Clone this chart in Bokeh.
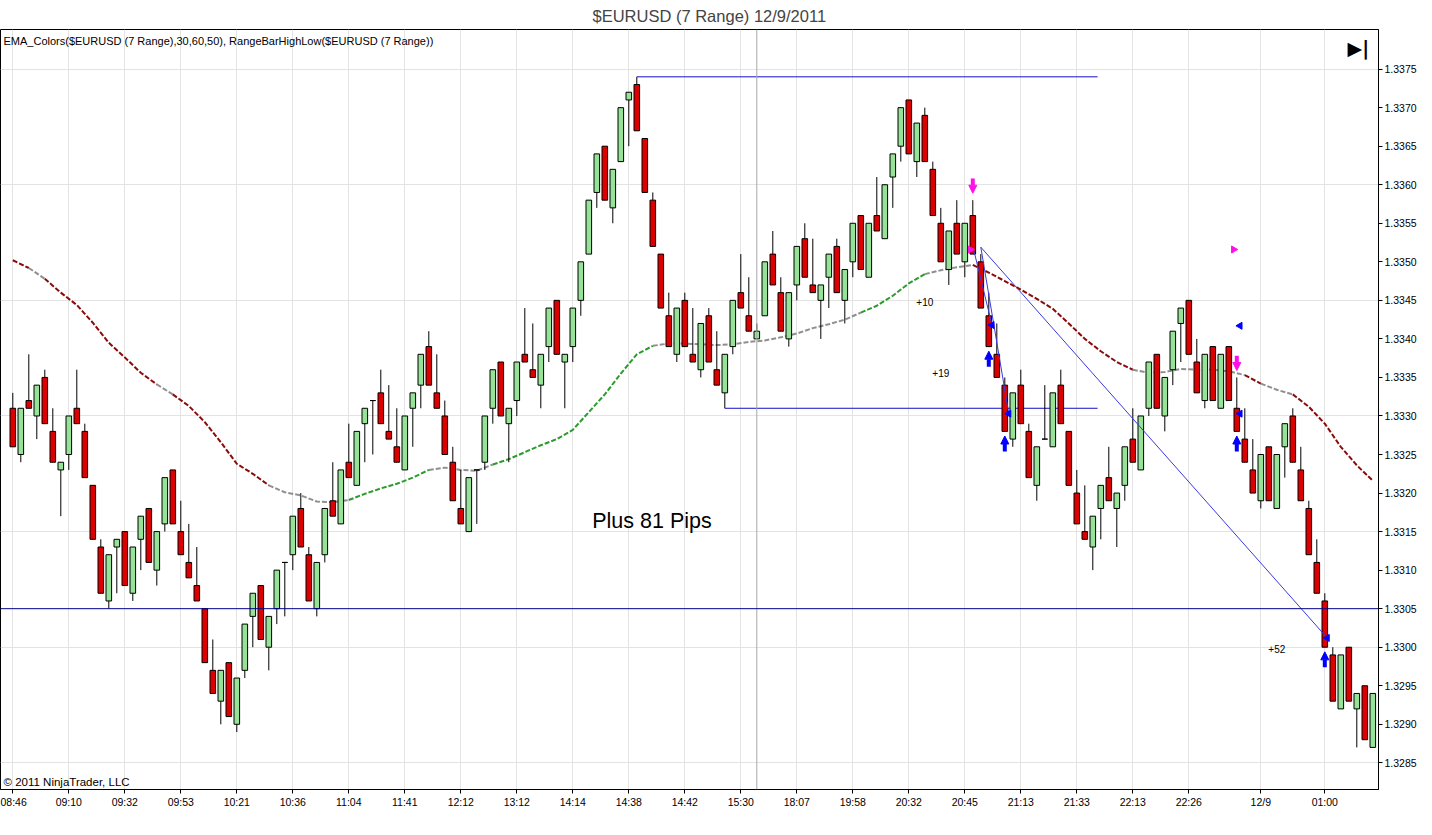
import math
from bokeh.plotting import figure
from bokeh.models import (ColumnDataSource, Range1d, FixedTicker, Span, Label,
                          Arrow, NormalHead, PrintfTickFormatter)
from bokeh.core.properties import value
from bokeh.embed import file_html
from bokeh.resources import INLINE

# ---------------- data ----------------
bar_open = [
    1.3331, 1.3325, 1.3332, 1.3330, 1.3335, 1.3328, 1.3323, 1.3325, 1.3331, 1.3328,
    1.3321, 1.3313, 1.3306, 1.3313, 1.3315, 1.3307, 1.3314, 1.3318, 1.3310, 1.3316,
    1.3323, 1.3315, 1.3311, 1.3308, 1.3305, 1.3297, 1.3293, 1.3298, 1.3290, 1.3297,
    1.3304, 1.3308, 1.3300, 1.3305, 1.3311, 1.3312, 1.3318, 1.3312, 1.3305, 1.3312,
    1.3319, 1.3316, 1.3324, 1.3321, 1.3329, 1.3332, 1.3333, 1.3328, 1.3326, 1.3323,
    1.3331, 1.3334, 1.3339, 1.3333, 1.3330, 1.3324, 1.3318, 1.3315, 1.3323, 1.3324,
    1.3331, 1.3337, 1.3329, 1.3332, 1.3338, 1.3336, 1.3334, 1.3339, 1.3345, 1.3337,
    1.3339, 1.3345, 1.3351, 1.3359, 1.3365, 1.3357, 1.3363, 1.3371, 1.3373, 1.3366,
    1.3358, 1.3351, 1.3343, 1.3338, 1.3345, 1.3338, 1.3336, 1.3343, 1.3336, 1.3333,
    1.3339, 1.3346, 1.3343, 1.3340, 1.3343, 1.3351, 1.3346, 1.3340, 1.3347, 1.3353,
    1.3347, 1.3345, 1.3348, 1.3352, 1.3345, 1.3350, 1.3356, 1.3348, 1.3356, 1.3353,
    1.3361, 1.3365, 1.3371, 1.3363, 1.3369, 1.3362, 1.3355, 1.3349, 1.3355, 1.3350,
    1.3356, 1.3350, 1.3343, 1.3338, 1.3334, 1.3327, 1.3334, 1.3328, 1.3321, 1.3327,
    1.3326, 1.3334, 1.3328, 1.3320, 1.3315, 1.3313, 1.3318, 1.3322, 1.3318, 1.3321,
    1.3327, 1.3323, 1.3331, 1.3338, 1.3330, 1.3336, 1.3342, 1.3345, 1.3337, 1.3332,
    1.3339, 1.3331, 1.3339, 1.3331, 1.3327, 1.3323, 1.3319, 1.3326, 1.3318, 1.3326,
    1.3330, 1.3323, 1.3318, 1.3311, 1.3306, 1.3299, 1.3292, 1.3300, 1.3292, 1.3295,
    1.3287,
]
bar_high = [
    1.3333, 1.3331, 1.3338, 1.3334, 1.3336, 1.3331, 1.3324, 1.3330, 1.3336, 1.3329,
    1.3321, 1.3314, 1.3312, 1.3314, 1.3315, 1.3313, 1.3317, 1.3318, 1.3315, 1.3322,
    1.3323, 1.3319, 1.3316, 1.3313, 1.3305, 1.3301, 1.3297, 1.3298, 1.3296, 1.3303,
    1.3307, 1.3308, 1.3304, 1.3310, 1.3311, 1.3317, 1.3320, 1.3313, 1.3311, 1.3318,
    1.3324, 1.3323, 1.3329, 1.3328, 1.3331, 1.3332, 1.3336, 1.3334, 1.3331, 1.3330,
    1.3333, 1.3338, 1.3341, 1.3338, 1.3332, 1.3326, 1.3323, 1.3322, 1.3323, 1.3330,
    1.3336, 1.3337, 1.3331, 1.3337, 1.3344, 1.3342, 1.3338, 1.3344, 1.3345, 1.3338,
    1.3344, 1.3350, 1.3358, 1.3364, 1.3365, 1.3362, 1.3370, 1.3372, 1.3374, 1.3366,
    1.3359, 1.3351, 1.3346, 1.3344, 1.3346, 1.3344, 1.3342, 1.3344, 1.3341, 1.3338,
    1.3345, 1.3351, 1.3348, 1.3342, 1.3350, 1.3354, 1.3348, 1.3346, 1.3352, 1.3355,
    1.3353, 1.3347, 1.3351, 1.3353, 1.3349, 1.3355, 1.3356, 1.3355, 1.3361, 1.3360,
    1.3364, 1.3370, 1.3371, 1.3368, 1.3370, 1.3363, 1.3357, 1.3354, 1.3358, 1.3355,
    1.3358, 1.3351, 1.3346, 1.3342, 1.3335, 1.3333, 1.3336, 1.3329, 1.3326, 1.3334,
    1.3333, 1.3336, 1.3328, 1.3323, 1.3321, 1.3317, 1.3321, 1.3326, 1.3320, 1.3326,
    1.3331, 1.3330, 1.3337, 1.3338, 1.3335, 1.3341, 1.3344, 1.3345, 1.3340, 1.3338,
    1.3339, 1.3338, 1.3339, 1.3335, 1.3331, 1.3327, 1.3325, 1.3326, 1.3325, 1.3329,
    1.3331, 1.3326, 1.3319, 1.3314, 1.3307, 1.3300, 1.3299, 1.3300, 1.3294, 1.3295,
    1.3294,
]
bar_low = [
    1.3326, 1.3324, 1.3331, 1.3327, 1.3329, 1.3324, 1.3317, 1.3323, 1.3329, 1.3322,
    1.3314, 1.3307, 1.3305, 1.3307, 1.3308, 1.3306, 1.3310, 1.3311, 1.3308, 1.3315,
    1.3316, 1.3312, 1.3309, 1.3306, 1.3298, 1.3294, 1.3290, 1.3291, 1.3289, 1.3296,
    1.3300, 1.3301, 1.3297, 1.3303, 1.3304, 1.3310, 1.3313, 1.3306, 1.3304, 1.3311,
    1.3317, 1.3316, 1.3322, 1.3321, 1.3324, 1.3325, 1.3329, 1.3327, 1.3324, 1.3323,
    1.3326, 1.3331, 1.3334, 1.3331, 1.3325, 1.3319, 1.3316, 1.3315, 1.3316, 1.3323,
    1.3329, 1.3330, 1.3324, 1.3330, 1.3337, 1.3335, 1.3331, 1.3337, 1.3338, 1.3331,
    1.3337, 1.3343, 1.3351, 1.3357, 1.3358, 1.3355, 1.3363, 1.3365, 1.3367, 1.3359,
    1.3352, 1.3344, 1.3339, 1.3337, 1.3339, 1.3337, 1.3335, 1.3337, 1.3334, 1.3331,
    1.3338, 1.3344, 1.3341, 1.3340, 1.3343, 1.3347, 1.3341, 1.3339, 1.3345, 1.3348,
    1.3346, 1.3340, 1.3344, 1.3346, 1.3342, 1.3348, 1.3349, 1.3348, 1.3354, 1.3353,
    1.3357, 1.3363, 1.3364, 1.3361, 1.3363, 1.3356, 1.3350, 1.3347, 1.3351, 1.3348,
    1.3351, 1.3344, 1.3339, 1.3335, 1.3328, 1.3326, 1.3329, 1.3322, 1.3319, 1.3327,
    1.3326, 1.3329, 1.3321, 1.3316, 1.3314, 1.3310, 1.3314, 1.3319, 1.3313, 1.3319,
    1.3324, 1.3323, 1.3330, 1.3331, 1.3328, 1.3334, 1.3337, 1.3338, 1.3333, 1.3331,
    1.3332, 1.3331, 1.3332, 1.3328, 1.3324, 1.3320, 1.3318, 1.3319, 1.3318, 1.3322,
    1.3324, 1.3319, 1.3312, 1.3307, 1.3300, 1.3293, 1.3292, 1.3293, 1.3287, 1.3288,
    1.3287,
]
bar_close = [
    1.3326, 1.3331, 1.3331, 1.3334, 1.3329, 1.3324, 1.3324, 1.3330, 1.3329, 1.3322,
    1.3314, 1.3307, 1.3312, 1.3314, 1.3308, 1.3313, 1.3317, 1.3311, 1.3315, 1.3322,
    1.3316, 1.3312, 1.3309, 1.3306, 1.3298, 1.3294, 1.3297, 1.3291, 1.3296, 1.3303,
    1.3307, 1.3301, 1.3304, 1.3310, 1.3311, 1.3317, 1.3313, 1.3306, 1.3311, 1.3318,
    1.3317, 1.3323, 1.3322, 1.3328, 1.3331, 1.3332, 1.3329, 1.3327, 1.3324, 1.3330,
    1.3333, 1.3338, 1.3334, 1.3331, 1.3325, 1.3319, 1.3316, 1.3322, 1.3323, 1.3330,
    1.3336, 1.3330, 1.3331, 1.3337, 1.3337, 1.3335, 1.3338, 1.3344, 1.3338, 1.3338,
    1.3344, 1.3350, 1.3358, 1.3364, 1.3358, 1.3362, 1.3370, 1.3372, 1.3367, 1.3359,
    1.3352, 1.3344, 1.3339, 1.3344, 1.3339, 1.3337, 1.3342, 1.3337, 1.3334, 1.3338,
    1.3345, 1.3344, 1.3341, 1.3341, 1.3350, 1.3347, 1.3341, 1.3346, 1.3352, 1.3348,
    1.3346, 1.3347, 1.3351, 1.3346, 1.3349, 1.3355, 1.3349, 1.3355, 1.3354, 1.3360,
    1.3364, 1.3370, 1.3364, 1.3368, 1.3363, 1.3356, 1.3350, 1.3354, 1.3351, 1.3355,
    1.3351, 1.3344, 1.3339, 1.3335, 1.3328, 1.3333, 1.3329, 1.3322, 1.3326, 1.3327,
    1.3333, 1.3329, 1.3321, 1.3316, 1.3314, 1.3317, 1.3321, 1.3319, 1.3320, 1.3326,
    1.3324, 1.3330, 1.3337, 1.3331, 1.3335, 1.3341, 1.3344, 1.3338, 1.3333, 1.3338,
    1.3332, 1.3338, 1.3332, 1.3328, 1.3324, 1.3320, 1.3325, 1.3319, 1.3325, 1.3329,
    1.3324, 1.3319, 1.3312, 1.3307, 1.3300, 1.3293, 1.3299, 1.3293, 1.3294, 1.3288,
    1.3294,
]

x_tick_bars = [0, 7, 14, 21, 28, 35, 42, 49, 56, 63, 70, 77, 84, 91, 98, 105,
               112, 119, 126, 133, 140, 147, 156, 164]
x_tick_labels = ["08:46", "09:10", "09:32", "09:53", "10:21", "10:36", "11:04",
                 "11:41", "12:12", "13:12", "14:14", "14:38", "14:42", "15:30",
                 "18:07", "19:58", "20:32", "20:45", "21:13", "21:33", "22:13",
                 "22:26", "12/9", "01:00"]
session_break_bar = 93

y_tick_values = [1.3285, 1.3290, 1.3295, 1.3300, 1.3305, 1.3310, 1.3315, 1.3320,
                 1.3325, 1.3330, 1.3335, 1.3340, 1.3345, 1.3350, 1.3355, 1.3360,
                 1.3365, 1.3370, 1.3375]
y_grid_values = [1.3285, 1.3300, 1.3315, 1.3330, 1.3345, 1.3360, 1.3375]

# EMA read every second bar
ema_bars = [0, 2, 4, 6, 8, 10, 12, 14, 16, 18, 20, 22, 24, 26, 28, 30, 32, 34,
            36, 38, 40, 42, 44, 46, 48, 50, 52, 54, 56, 58, 60, 62, 64, 66, 68,
            70, 72, 74, 76, 78, 80, 82, 84, 86, 88, 90, 92, 94, 96, 98, 100, 102,
            104, 106, 108, 110, 112, 114, 116, 118, 120, 122, 124, 126, 128, 130,
            132, 134, 136, 138, 140, 142, 144, 146, 148, 150, 152, 154, 156, 158,
            160, 162, 164, 166, 168, 170]
ema_values = [1.33502, 1.33492, 1.33478, 1.33460, 1.33444, 1.33421, 1.33395, 1.33376,
              1.33356, 1.33341, 1.33328, 1.33313, 1.33292, 1.33266, 1.33238, 1.33225,
              1.33210, 1.33201, 1.33197, 1.33189, 1.33188, 1.33191, 1.33199, 1.33206,
              1.33212, 1.33220, 1.33230, 1.33233, 1.33230, 1.33229, 1.33237, 1.33244,
              1.33253, 1.33262, 1.33270, 1.33282, 1.33305, 1.33328, 1.33355, 1.33380,
              1.33391, 1.33394, 1.33394, 1.33393, 1.33392, 1.33393, 1.33396, 1.33398,
              1.33402, 1.33407, 1.33414, 1.33419, 1.33425, 1.33434, 1.33443, 1.33456,
              1.33472, 1.33484, 1.33489, 1.33493, 1.33496, 1.33486, 1.33475, 1.33464,
              1.33452, 1.33439, 1.33420, 1.33400, 1.33384, 1.33370, 1.33360, 1.33356,
              1.33357, 1.33361, 1.33360, 1.33360, 1.33358, 1.33353, 1.33342, 1.33334,
              1.33328, 1.33312, 1.33290, 1.33260, 1.33236, 1.33216]
# colour state of the segment starting at each point: D=falling, F=flat, U=rising
ema_state = ["D", "F", "D", "D", "D", "D", "D", "D", "D", "F",
             "D", "D", "D", "D", "D", "D", "F", "F", "F", "F",
             "F", "U", "U", "U", "U", "U", "F", "F", "F", "F",
             "U", "U", "U", "U", "U", "U", "U", "U", "U", "U",
             "F", "F", "F", "F", "F", "F", "F", "F", "F", "F",
             "F", "F", "F", "U", "U", "U", "U", "F", "F", "F",
             "D", "D", "D", "D", "D", "D", "D", "D", "D", "D",
             "F", "F", "F", "F", "F", "F", "F", "D", "F", "F",
             "D", "D", "D", "D", "D", "D"]

range_line_start = [78, 89]
range_line_end = [135.6, 135.6]
range_line_price = [1.3374, 1.3331]
level_line_price = 1.3305

trade_entry_bar = [120.1, 121.0, 121.0]
trade_entry_price = [1.33516, 1.33519, 1.33519]
trade_exit_bar = [122.4, 124.5, 164.3]
trade_exit_price = [1.33418, 1.33303, 1.33012]

sell_signal_bars = [120, 153]
cover_signal_bars = [122, 124, 153, 164]

entry_marker_bar = [119.7, 152.6]
entry_marker_price = [1.33516, 1.33516]
exit_marker_bar = [122.4, 124.5, 153.4, 153.4, 164.3]
exit_marker_price = [1.33418, 1.33303, 1.33417, 1.33303, 1.33012]

profit_text = ["+10", "+19", "+52"]
profit_bar = [114.0, 116.0, 158.0]
profit_price = [1.33448, 1.33356, 1.32998]

note_text = ["Plus 81 Pips"]
note_bar = [79.9]
note_price = [1.33164]

FONT = "Liberation Sans"

# ---------------- figure ----------------
x_start, x_end = -1.5375, 170.7125
p = figure(width=1420, height=819, output_backend="svg", toolbar_location=None,
           x_range=Range1d(x_start, x_end), y_range=Range1d(1.328154, 1.338014),
           y_axis_location="right", min_border_left=0, min_border_right=42,
           min_border_top=28, min_border_bottom=30,
           background_fill_color="white", border_fill_color="white")
p.title.text = "$EURUSD (7 Range)  12/9/2011"
p.title.align = "left"
p.title.offset = 592
p.title.text_font = FONT
p.title.text_font_size = "16.5px"
p.title.text_font_style = "normal"
p.title.standoff = 9
p.outline_line_color = "black"
p.outline_line_width = 1

p.xaxis.ticker = FixedTicker(ticks=x_tick_bars)
p.xaxis.major_label_overrides = {b: t for b, t in zip(x_tick_bars, x_tick_labels)}
p.yaxis.ticker = FixedTicker(ticks=y_tick_values)
p.yaxis.formatter = PrintfTickFormatter(format="%.4f")
for ax in (p.xaxis, p.yaxis):
    ax.major_label_text_font = FONT
    ax.major_label_text_font_size = "10.5px"
    ax.major_label_text_color = "black"
    ax.axis_line_color = "black"
    ax.major_tick_line_color = "black"
    ax.major_tick_out = 4
    ax.major_tick_in = 0
    ax.minor_tick_line_color = None
    ax.major_label_standoff = 2
p.xgrid.grid_line_color = "#e3e3e3"
p.ygrid.ticker = FixedTicker(ticks=y_grid_values)
p.ygrid.grid_line_color = "#e3e3e3"

p.add_layout(Span(location=session_break_bar, dimension="height",
                  line_color="#a8a8a8", line_width=1))

# EMA coloured dashed line
ema_colour = {"D": "#8b0a0a", "F": "#8f8f8f", "U": "#2b9b2b"}
runs_x, runs_y, runs_c = [], [], []
start = 0
n = len(ema_bars)
for i in range(1, n):
    if i == n - 1 or ema_state[i] != ema_state[start]:
        runs_x.append(ema_bars[start:i + 1])
        runs_y.append(ema_values[start:i + 1])
        runs_c.append(ema_colour[ema_state[start]])
        start = i
p.multi_line(xs=runs_x, ys=runs_y, line_color=runs_c, line_width=2, line_dash="5 2")

# level line and range high/low lines
p.add_layout(Span(location=level_line_price, dimension="width",
                  line_color="#00008b", line_width=1))
p.segment(x0=range_line_start, y0=range_line_price, x1=range_line_end,
          y1=range_line_price, line_color="#1010c8", line_width=1)

# candles
bars = list(range(len(bar_open)))
body_top = [max(o, c) for o, c in zip(bar_open, bar_close)]
body_bot = [min(o, c) for o, c in zip(bar_open, bar_close)]
fill = ["#96e296" if c > o else ("#dc0000" if c < o else "black")
        for o, c in zip(bar_open, bar_close)]
src = ColumnDataSource(dict(x=bars, h=bar_high, l=bar_low, top=body_top,
                            bot=body_bot, fill=fill))
p.segment(x0="x", y0="h", x1="x", y1="l", source=src, line_color="black", line_width=1)
p.vbar(x="x", top="top", bottom="bot", width=0.7, source=src,
       fill_color="fill", line_color="black", line_width=1)

# trade lines
p.segment(x0=trade_entry_bar, y0=trade_entry_price, x1=trade_exit_bar,
          y1=trade_exit_price, line_color="#3a3ae0", line_width=1)

# signal arrows
pip = 0.0001
sell_src = ColumnDataSource(dict(
    x=sell_signal_bars,
    y0=[bar_high[b] + 2.8 * pip for b in sell_signal_bars],
    y1=[bar_high[b] + 0.9 * pip for b in sell_signal_bars]))
p.add_layout(Arrow(end=NormalHead(size=8, fill_color="#ff10e8", line_color="#ff10e8"),
                   source=sell_src, x_start="x", y_start="y0", x_end="x", y_end="y1",
                   line_color="#ff10e8", line_width=4))
cover_src = ColumnDataSource(dict(
    x=cover_signal_bars,
    y0=[bar_low[b] - 2.6 * pip for b in cover_signal_bars],
    y1=[bar_low[b] - 0.6 * pip for b in cover_signal_bars]))
p.add_layout(Arrow(end=NormalHead(size=8, fill_color="#0000ff", line_color="#0000ff"),
                   source=cover_src, x_start="x", y_start="y0", x_end="x", y_end="y1",
                   line_color="#0000ff", line_width=4))

# entry / exit execution markers
p.scatter(entry_marker_bar, entry_marker_price, marker="triangle", angle=-math.pi / 2,
          size=7, fill_color="#ff10e8", line_color="#ff10e8")
p.scatter(exit_marker_bar, exit_marker_price, marker="triangle", angle=math.pi / 2,
          size=7, fill_color="#0000ff", line_color="#0000ff")

# texts
p.text(x=profit_bar, y=profit_price, text=profit_text, text_font=value(FONT),
       text_font_size="10px", text_align="center", text_baseline="middle",
       text_color="black")
p.text(x=note_bar, y=note_price, text=note_text, text_font=value(FONT),
       text_font_size="21.5px", text_align="center", text_baseline="middle",
       text_color="black")

p.add_layout(Label(x=x_start, y=1.337871, x_offset=3,
                   text="EMA_Colors($EURUSD (7 Range),30,60,50), RangeBarHighLow($EURUSD (7 Range))",
                   text_font=FONT, text_font_size="11px", text_baseline="middle",
                   text_color="black"))
p.add_layout(Label(x=x_start, y=1.328245, x_offset=3, text="\u00a9 2011 NinjaTrader, LLC",
                   text_font=FONT, text_font_size="11.5px", text_baseline="middle",
                   text_color="black"))
p.add_layout(Label(x=168.2, y=1.337768, text="\u25b6|", text_font="DejaVu Sans",
                   text_font_size="19px", text_font_style="bold", text_align="center",
                   text_baseline="middle", text_color="black"))

open("out.html", "w").write(file_html(p, INLINE))
